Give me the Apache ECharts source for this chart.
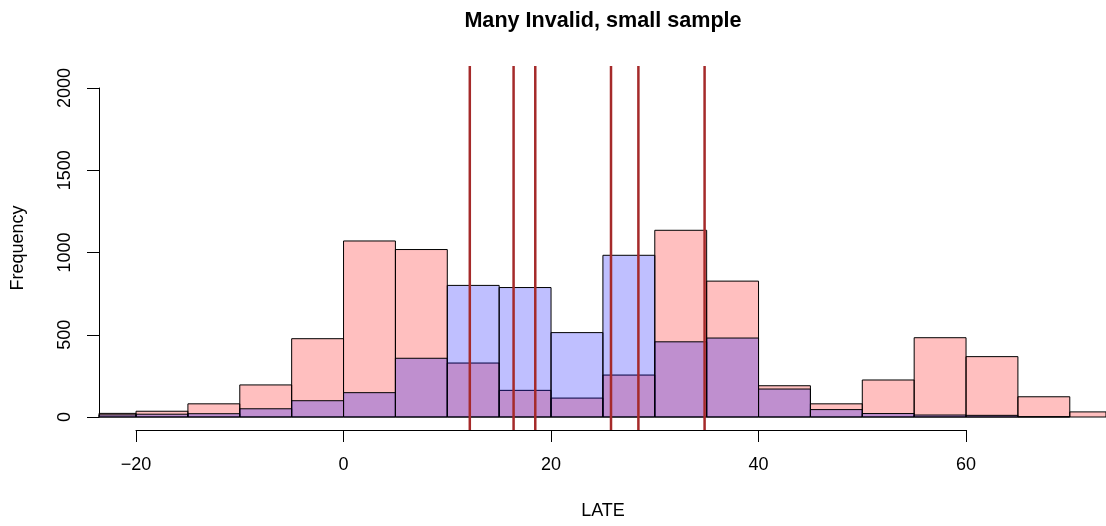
<!DOCTYPE html>
<html>
<head>
<meta charset="utf-8">
<script src="https://cdn.jsdelivr.net/npm/echarts@6/dist/echarts.min.js"></script>
<style>
html, body { margin: 0; padding: 0; background: #fff; }
#chart { width: 1106px; height: 526px; }
</style>
</head>
<body>
<div id="chart"></div>
<script>
// histogram bins (left edges), width 5
var binStarts = [-25, -20, -15, -10, -5, 0, 5, 10, 15, 20, 25, 30, 35, 40, 45, 50, 55, 60, 65, 70];
var binWidth = 5;
// red histogram counts
var redCounts = [22, 35, 80, 195, 476, 1070, 1018, 328, 162, 115, 255, 1135, 826, 190, 80, 225, 482, 367, 123, 31];
// blue histogram counts
var blueCounts = [13, 17, 20, 50, 99, 148, 357, 800, 787, 513, 983, 457, 480, 170, 45, 21, 12, 10, 2, 0];
// vertical reference lines (LATE estimates)
var lateLines = [12.17, 16.39, 18.48, 25.78, 28.42, 34.80];
var xTicks = [-20, 0, 20, 40, 60];
var yTicks = [0, 500, 1000, 1500, 2000];

var FONT = '"Liberation Sans", Arial, Helvetica, sans-serif';

function toPairs(counts) {
    var out = [];
    for (var i = 0; i < binStarts.length; i++) {
        out.push([binStarts[i], counts[i]]);
    }
    return out;
}

function barRenderer(fill) {
    return function (params, api) {
        var x0 = api.value(0);
        var v = api.value(1);
        if (!v) return;
        var p0 = api.coord([x0, 0]);
        var p1 = api.coord([x0 + binWidth, v]);
        var cs = params.coordSys;
        var rect = echarts.graphic.clipRectByRect(
            { x: p0[0], y: p1[1], width: p1[0] - p0[0], height: p0[1] - p1[1] },
            { x: cs.x, y: cs.y, width: cs.width, height: cs.height }
        );
        if (!rect) return;
        return {
            type: 'rect',
            shape: rect,
            style: { fill: fill, stroke: '#000', lineWidth: 1 }
        };
    };
}

var myChart = echarts.init(document.getElementById('chart'), null, { renderer: 'canvas' });

var option = {
    animation: false,
    backgroundColor: '#fff',
    textStyle: { fontFamily: FONT },
    graphic: [
        {
            type: 'text', x: 603, y: 21,
            style: { text: 'Many Invalid, small sample', fontSize: 21.6, fontWeight: 'bold', fontFamily: FONT, fill: '#000', align: 'center', verticalAlign: 'middle' }
        },
        {
            type: 'text', x: 603, y: 511,
            style: { text: 'LATE', fontSize: 18, fontFamily: FONT, fill: '#000', align: 'center', verticalAlign: 'middle' }
        },
        {
            type: 'text', x: 18, y: 248, rotation: Math.PI / 2,
            style: { text: 'Frequency', fontSize: 18, fontFamily: FONT, fill: '#000', align: 'center', verticalAlign: 'middle' }
        }
    ],
    grid: [
        { left: 99, right: 0, top: 66, bottom: 96 },    // plot region
        { left: 136, right: 140, top: 66, bottom: 96 }, // x axis drawing
        { left: 99, right: 0, top: 88, bottom: 109 }    // y axis drawing
    ],
    xAxis: [
        { gridIndex: 0, type: 'value', min: -23.57, max: 73.49, show: false },
        {
            gridIndex: 1, type: 'value', min: -20, max: 60, interval: 20,
            axisLine: { show: true, onZero: false, lineStyle: { color: '#000', width: 1 } },
            axisTick: { show: true, length: 12, lineStyle: { color: '#000' } },
            splitLine: { show: false },
            axisLabel: {
                margin: 26, fontSize: 18, color: '#000', fontFamily: FONT,
                formatter: function (v) { return String(v).replace('-', '\u2212'); }
            }
        },
        { gridIndex: 2, type: 'value', min: 0, max: 1, show: false }
    ],
    yAxis: [
        { gridIndex: 0, type: 'value', min: -79, max: 2133.7, show: false },
        { gridIndex: 1, type: 'value', min: 0, max: 1, show: false },
        {
            gridIndex: 2, type: 'value', min: 0, max: 2000, interval: 500,
            axisLine: { show: true, lineStyle: { color: '#000', width: 1 } },
            axisTick: { show: true, length: 12, lineStyle: { color: '#000' } },
            splitLine: { show: false },
            axisLabel: {
                margin: 25, fontSize: 18, color: '#000', fontFamily: FONT, rotate: 90,
                formatter: function (v) { return String(v); }
            }
        }
    ],
    series: [
        {
            name: 'red', type: 'custom', xAxisIndex: 0, yAxisIndex: 0,
            renderItem: barRenderer('rgba(255,0,0,0.25)'),
            encode: { x: 0, y: 1 },
            data: toPairs(redCounts),
            z: 2
        },
        {
            name: 'blue', type: 'custom', xAxisIndex: 0, yAxisIndex: 0,
            renderItem: barRenderer('rgba(0,0,255,0.25)'),
            encode: { x: 0, y: 1 },
            data: toPairs(blueCounts),
            z: 3
        },
        {
            name: 'late', type: 'custom', xAxisIndex: 0, yAxisIndex: 0,
            renderItem: function (params, api) {
                var x = api.coord([api.value(0), 0])[0];
                var cs = params.coordSys;
                return {
                    type: 'line',
                    shape: { x1: x, y1: cs.y, x2: x, y2: cs.y + cs.height },
                    style: { stroke: '#A52A2A', lineWidth: 2.5 }
                };
            },
            encode: { x: 0 },
            data: lateLines.map(function (v) { return [v, 0]; }),
            z: 4
        }
    ]
};
myChart.setOption(option);
</script>
</body>
</html>
